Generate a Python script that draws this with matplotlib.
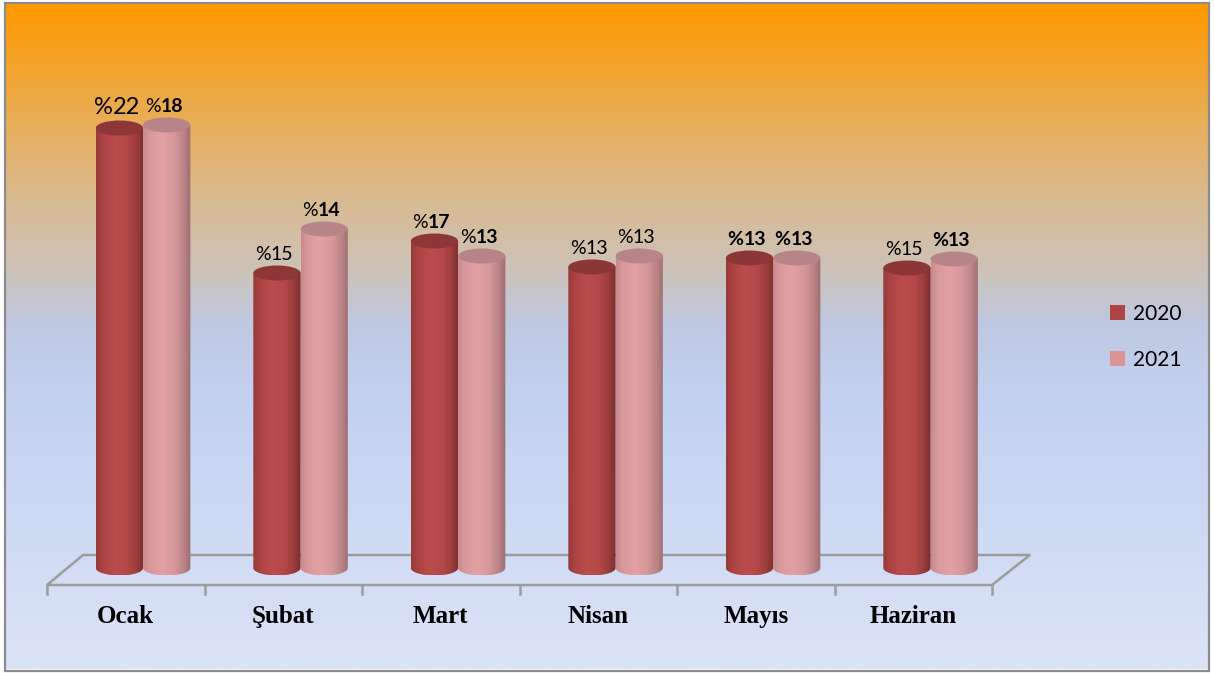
import numpy as np
import matplotlib
matplotlib.use('Agg')
import matplotlib.pyplot as plt
from matplotlib.patches import Ellipse, PathPatch, Rectangle, Polygon, Patch
from matplotlib.path import Path
from matplotlib.offsetbox import TextArea, HPacker, AnnotationBbox
from matplotlib.colors import LinearSegmentedColormap

months = ['Ocak', 'Şubat', 'Mart', 'Nisan', 'Mayıs', 'Haziran']
series = ['2020', '2021']
# bar heights as they are drawn in the picture (percent)
heights_2020 = [22.0, 14.75, 16.35, 15.05, 15.5, 15.0]
heights_2021 = [22.15, 16.95, 15.6, 15.6, 15.5, 15.45]
# data label texts as printed above the bars
labels_2020 = ['22', '15', '17', '13', '13', '15']
labels_2021 = ['18', '14', '13', '13', '13', '13']
# 'n' plain, 'b' bold number, 'B' all bold
style_2020 = ['n', 'n', 'b', 'n', 'B', 'n']
style_2021 = ['b', 'b', 'b', 'n', 'B', 'B']

W, H = 1214, 673
fig = plt.figure(figsize=(W / 100, H / 100), dpi=100)
fig.patch.set_facecolor('white')

# gradient background (orange on top, pale blue below)
bg = fig.add_axes([6 / W, 4 / H, 1203 / W, 667 / H])
bg_cmap = LinearSegmentedColormap.from_list('bg', [
    (0.0, '#ff9900'), (0.07, '#f6a11f'), (0.18, '#e8ae5a'),
    (0.30, '#d8bb93'), (0.40, '#cdc2b8'), (0.48, '#bfc8e0'),
    (0.60, '#c3d1f1'), (1.0, '#dbe3f6')])
bg.imshow(np.linspace(0, 1, 300).reshape(-1, 1), cmap=bg_cmap, aspect='auto')
bg.set_axis_off()
fig.patches.append(Rectangle((5 / W, 2 / H), 1204 / W, 668 / H, transform=fig.transFigure,
                             facecolor='none', edgecolor='#8c8c8c', lw=1.6, zorder=10))

ax = fig.add_axes([47 / W, (H - 608) / H, 945 / W, 520 / H])
ax.set_axis_off()
ax.patch.set_alpha(0)

red_cmap = LinearSegmentedColormap.from_list('r', [
    (0.0, '#973a3a'), (0.15, '#ad4343'), (0.4, '#bb4c4c'), (0.65, '#b44848'),
    (0.85, '#9c3d3d'), (1.0, '#7c2e2e')])
pink_cmap = LinearSegmentedColormap.from_list('p', [
    (0.0, '#c98a8e'), (0.15, '#d99a9d'), (0.4, '#e3a1a4'), (0.65, '#d6989b'),
    (0.85, '#bb8488'), (1.0, '#9c6e72')])
top_colors = ['#8d3636', '#b7848a']
cmaps = [red_cmap, pink_cmap]

bar_w = 0.30
ell_h = 0.75
offsets = [-0.04, 0.26]


def cylinder(xc, h, cmap, top_color, z):
    x0, x1 = xc - bar_w / 2, xc + bar_w / 2
    t = np.linspace(np.pi, 2 * np.pi, 60)
    bottom = np.column_stack([xc + bar_w / 2 * np.cos(t), ell_h / 2 * np.sin(t)])
    verts = np.vstack([[x0, h], bottom, [x1, h], [x0, h]])
    clip = PathPatch(Path(verts), facecolor='none', edgecolor='none', transform=ax.transData)
    ax.add_patch(clip)
    im = ax.imshow(np.linspace(0, 1, 120).reshape(1, -1), cmap=cmap,
                   extent=[x0, x1, -ell_h / 2, h], aspect='auto', zorder=z)
    im.set_clip_path(clip)
    ax.add_patch(Ellipse((xc, h), bar_w, ell_h, facecolor=top_color, edgecolor='none', zorder=z + 0.1))


def data_label(xc, h, num, style, size):
    pw = 'bold' if style == 'B' else 'normal'
    nw = 'normal' if style == 'n' else 'bold'
    kw = dict(family='Lato', size=size, color='black')
    box = HPacker(children=[TextArea('%', textprops=dict(weight=pw, **kw)),
                            TextArea(num, textprops=dict(weight=nw, **kw))],
                  align='baseline', pad=0, sep=0)
    ab = AnnotationBbox(box, (xc, h + ell_h / 2), xybox=(-2, 2), boxcoords='offset points',
                        box_alignment=(0.5, 0), frameon=False, pad=0, zorder=20)
    ax.add_artist(ab)


# floor of the 3D plot
floor = Polygon([(-0.5, -0.85), (5.5, -0.85), (5.741, 0.65), (-0.271, 0.65)], closed=True,
                facecolor='none', edgecolor='#9c9c9c', lw=1.8, zorder=1, clip_on=False)
ax.add_patch(floor)
for k in range(7):
    ax.plot([-0.5 + k, -0.5 + k], [-0.85, -1.3], color='#9c9c9c', lw=1.8, zorder=1, clip_on=False)

z = 2
for i in range(len(months)):
    for s, (hs, ls, st) in enumerate([(heights_2020, labels_2020, style_2020),
                                       (heights_2021, labels_2021, style_2021)]):
        xc = i + offsets[s]
        cylinder(xc, hs[i], cmaps[s], top_colors[s], z)
        z += 1
        size = 17 if (i == 0 and s == 0) else 14
        data_label(xc, hs[i], ls[i], st[i], size)
    ax.text(i, -2.75, months[i], ha='center', va='baseline', family='Liberation Serif',
            weight='bold', size=18)

ax.set_xlim(-0.5, 5.5)
ax.set_ylim(-2, 24)

handles = [Patch(facecolor='#ae4545'), Patch(facecolor='#da9496')]
fig.legend(handles, series, loc='center left', bbox_to_anchor=(1091 / W, 1 - 337 / H),
           frameon=False, prop=dict(family='Lato', size=15), handlelength=0.75,
           handleheight=0.75, handletextpad=0.35, labelspacing=1.25)

fig.savefig('out.png', dpi=100)
